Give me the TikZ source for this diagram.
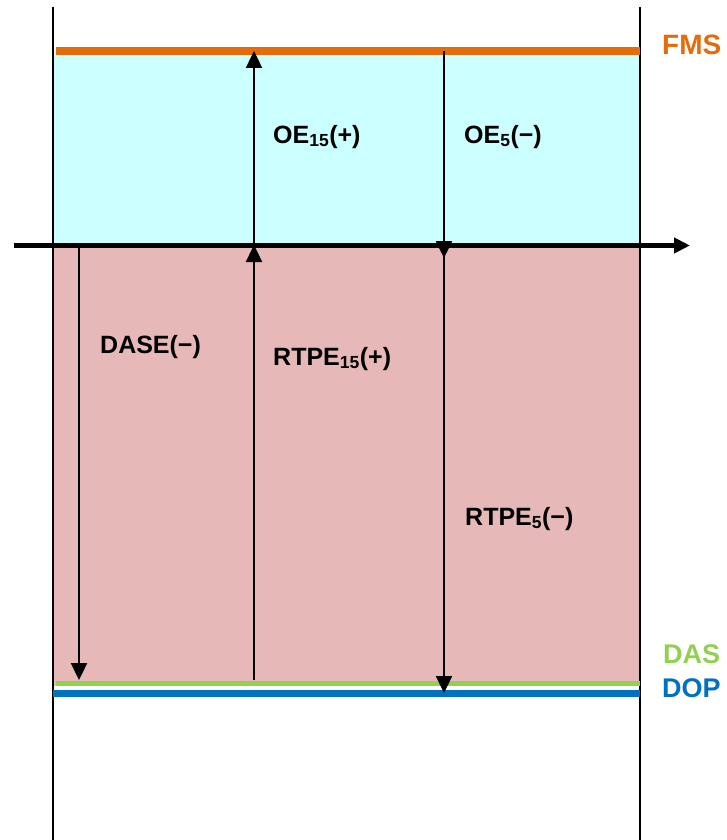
\documentclass[tikz,border=0pt]{standalone}
\usepackage{fontspec}
\setmainfont{Liberation Sans}
\usetikzlibrary{arrows.meta}
\definecolor{fmsorange}{HTML}{E46C0A}
\definecolor{dasgreen}{HTML}{92D050}
\definecolor{dopblue}{HTML}{0070C0}
\definecolor{oecyan}{HTML}{CCFFFF}
\definecolor{rtpepink}{HTML}{E6B8B7}
\begin{document}
\begin{tikzpicture}[x=1pt,y=-1pt,
				lbl/.style={anchor=base west,inner sep=0pt,font={\bfseries\fontsize{25}{30}\selectfont}},
				lvl/.style={anchor=base west,inner sep=0pt,font={\bfseries\fontsize{27}{30}\selectfont}},
				arr/.style={line width=2.4pt,-{Triangle[length=17pt,width=16pt]}},
				wall/.style={line width=1.4pt}]
				\useasboundingbox (0,0) rectangle (726,840);
				\fill[oecyan]   (53,51) rectangle (640,245);
				\fill[rtpepink] (53,245) rectangle (640,686);
				\draw[wall] (53,7) -- (53,840) (640,7) -- (640,840);
				\draw[fmsorange,line width=8pt] (56,51) -- (640,51);
				\draw[dasgreen,line width=5pt]  (56,683) -- (640,683);
				\draw[dopblue,line width=7pt]   (53,693) -- (640,693);
				
				\coordinate (FMS15) at (254,51);
				\coordinate (AX15)  at (254,245);
				\coordinate (BOT15) at (254,680);
				\coordinate (FMS5)  at (444,51);
				\coordinate (AX5)   at (444,258);
				\coordinate (TOP5)  at (444,245);
				\coordinate (DOP5)  at (444,693);
				\coordinate (DASE0) at (79,245);
				\coordinate (DASE1) at (79,680);
				\coordinate (AXL)   at (14,245.5);
				\coordinate (AXR)   at (690,245.5);
				
				\draw[arr] (AX15) -- (FMS15);
				\draw[arr] (BOT15) -- (AX15);
				\draw[arr] (FMS5) -- (AX5);
				\draw[arr] (TOP5) -- (DOP5);
				\draw[arr] (DASE0) -- (DASE1);
				\draw[line width=4.5pt,-{Triangle[length=16pt,width=15pt]}] (AXL) -- (AXR);
				
				\node (OE15)   [lbl] at (273,143) {OE\textsubscript{15}(+)};
				\node (OE5)    [lbl] at (464,143) {OE\textsubscript{5}(−)};
				\node (DASE)   [lbl] at (100,353) {DASE(−)};
				\node (RTPE15) [lbl] at (273,365) {RTPE\textsubscript{15}(+)};
				\node (RTPE5)  [lbl] at (465,525) {RTPE\textsubscript{5}(−)};
				\node (FMS)    [lvl,text=fmsorange,font={\bfseries\fontsize{28}{30}\selectfont}] at (662,55) {FMS};
				\node (DAS)    [lvl,text=dasgreen] at (663,663) {DAS};
				\node (DOP)    [lvl,text=dopblue]  at (662,697) {DOP};
			\end{tikzpicture}
\end{document}
